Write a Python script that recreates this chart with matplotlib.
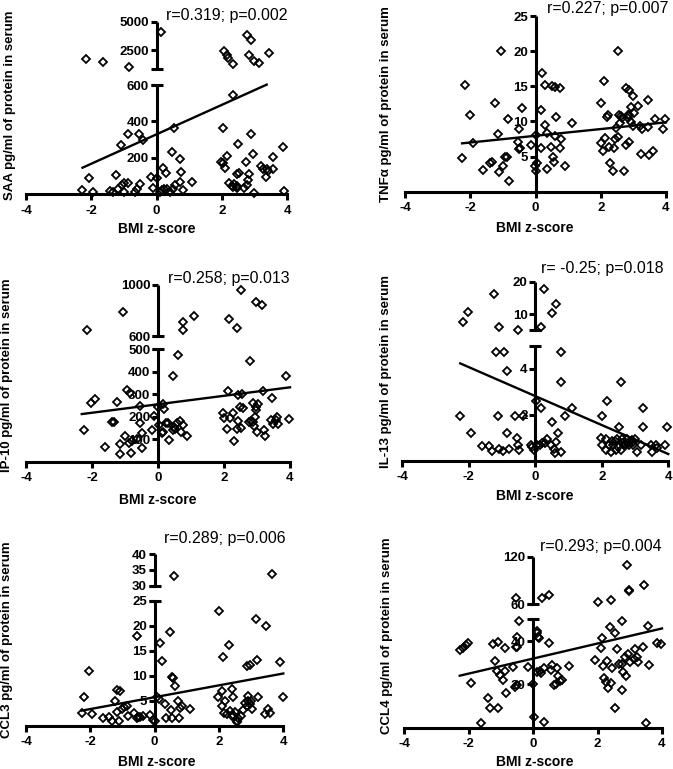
import numpy as np
import matplotlib
matplotlib.use("Agg")
import matplotlib.pyplot as plt

plt.rcParams['font.family'] = ['Liberation Sans', 'DejaVu Sans']
plt.rcParams['axes.unicode_minus'] = False

# ---------------- data ----------------
saa_x = [-2.16,-1.63,-0.86,0.13,2.07,2.14,2.17,2.35,2.76,2.88,2.84,2.99,3.13,3.45,
         2.35,-1.08,-0.89,-0.55,-0.43,0.53,-2.06,-1.24,-2.28,-1.94,-1.43,-1.33,-1.17,-1.07,-1.0,-0.87,
         -0.99,-0.66,-0.59,-0.51,-0.18,-0.12,0.0,0.20,0.28,0.10,0.15,0.22,0.31,0.46,0.71,0.74,0.71,
         0.56,0.51,0.41,0.82,1.07,2.02,1.96,2.09,2.14,2.04,2.5,2.52,2.47,2.88,2.96,2.73,2.84,2.81,
         2.76,2.68,2.99,2.22,2.30,2.37,2.45,2.47,2.35,3.21,3.27,3.37,3.35,3.42,3.57,3.55,3.86,3.90]
saa_y = [1677,1441,1030,4117,2441,2059,1765,1265,3823,3382,2059,1530,1324,2206,
         545,271,329,329,298,362,88,108,24,11,18,15,27,53,60,64,
         11,13,27,55,97,33,88,143,115,15,24,29,29,234,192,124,66,
         51,27,15,24,70,174,179,143,210,362,274,119,112,329,221,176,110,79,
         51,33,9,60,48,55,46,33,38,157,141,137,97,128,207,141,262,20]
saa_fit_x = [-2.27, 3.37]
saa_fit_y = [146, 605]

tnf_x = [-2.25,-2.16,-2.02,-1.92,-1.61,-1.39,-1.34,-1.24,-1.15,-1.13,-1.05,-1.0,-0.95,-0.88,-0.83,
         -0.82,-0.54,-0.52,-0.52,-0.47,-0.41,-0.13,-0.03,0.0,0.05,0.02,0.17,0.19,0.17,0.28,0.28,0.35,
         0.35,0.48,0.50,0.53,0.56,0.60,0.63,0.61,0.76,0.74,0.79,0.89,1.11,2.01,2.01,2.06,2.09,2.14,
         2.19,2.22,2.25,2.29,2.37,2.40,2.45,2.47,2.52,2.52,2.58,2.55,2.62,2.66,2.70,2.76,2.78,2.83,
         2.85,2.86,2.88,2.88,2.93,2.93,2.98,3.03,3.0,3.14,3.19,3.22,3.26,3.44,3.46,3.49,3.60,3.65,
         3.90,3.98]
tnf_y = [4.74,15.18,10.91,6.88,3.08,4.03,4.17,12.57,8.16,2.75,20.07,3.70,4.98,4.98,10.34,
         1.52,7.12,8.92,6.07,6.26,11.86,6.64,3.70,2.94,4.03,8.06,11.62,16.84,6.26,15.18,9.49,8.30,
         3.23,6.40,15.09,4.98,4.27,14.85,10.58,7.92,14.71,6.26,7.50,3.70,9.73,12.57,6.88,5.79,15.75,7.59,
         10.67,10.91,6.40,4.03,2.94,6.17,7.50,9.01,20.07,7.83,9.73,10.91,10.77,10.53,2.99,14.71,6.64,10.91,
         10.44,10.91,7.02,14.47,9.87,12.10,13.61,11.15,9.35,12.19,9.35,5.36,8.87,9.25,13.05,5.22,5.83,10.34,
         8.92,10.34]
tnf_fit_x = [-2.25, 4.0]
tnf_fit_y = [6.88, 9.87]

ip10_x = [-2.16,-1.05,0.75,0.77,1.10,2.16,2.38,2.51,2.97,3.16,
          0.60,0.46,2.79,3.88,-2.24,-2.03,-1.91,-1.61,-1.25,-1.38,-1.32,-1.15,-1.15,-1.0,-0.95,-0.85,
          -0.88,-0.82,-0.80,-0.65,-0.55,-0.55,-0.49,-0.49,-0.19,-0.11,-0.01,0.04,0.11,0.16,0.14,0.18,
          0.23,0.29,0.34,0.44,0.49,0.52,0.57,0.67,0.70,0.75,0.89,1.96,2.0,2.08,2.11,2.18,2.28,2.31,
          2.38,2.41,2.41,2.47,2.52,2.54,2.59,2.75,2.82,2.87,2.89,2.96,2.91,2.94,2.96,3.0,3.03,3.22,
          3.24,3.17,3.42,3.46,3.49,3.57,3.60,3.63,3.98]
ip10_y = [647,786,712,647,759,731,665,961,864,843,
          473,381,448,381,141,263,279,64,264,175,175,34,79,114,319,304,
          85,37,93,99,248,174,59,129,141,205,245,163,126,134,257,233,
          171,171,96,141,156,145,171,183,134,163,116,218,196,144,315,196,215,92,
          145,183,297,245,151,300,237,178,183,175,260,245,160,200,230,134,255,141,
          114,316,185,285,168,185,200,168,190]
ip10_fit_x = [-2.31, 4.0]
ip10_fit_y = [212, 331]

il13_x = [-2.16,-2.01,-1.23,-1.08,-0.53,0.19,0.27,0.50,0.64,
          -1.18,-0.93,-0.86,0.77,0.79,2.59,-2.25,-1.93,-1.61,-1.38,-1.31,-1.13,-1.08,-0.98,-0.85,-0.80,
          -0.61,-0.55,-0.51,-0.48,-0.36,-0.13,-0.08,-0.03,0.02,0.07,0.19,0.14,0.22,0.29,0.35,0.47,0.52,
          0.57,0.60,0.64,0.70,0.77,0.89,1.12,2.0,1.97,2.17,2.02,2.14,2.14,2.22,2.27,2.30,2.35,2.40,
          2.42,2.47,2.52,2.50,2.57,2.64,2.67,2.75,2.80,2.82,2.90,2.94,2.95,2.99,3.07,3.17,3.24,3.24,
          3.47,3.50,3.62,3.65,3.90,3.97,2.72,2.62]
il13_y = [7.76,10.8,16.2,6.2,5.2,6.2,17.7,10.3,13.1,
          4.71,4.71,3.91,4.71,3.41,3.41,1.96,1.19,0.65,0.65,0.42,1.96,0.51,0.42,1.19,0.51,
          1.96,0.97,0.68,0.46,1.96,0.68,0.61,0.46,2.61,0.68,2.28,0.68,0.78,0.75,0.94,0.68,1.67,
          0.51,0.32,0.80,1.19,0.39,1.96,2.28,1.96,0.97,2.61,0.68,0.94,0.46,0.68,0.36,0.87,0.68,0.87,
          0.46,0.94,1.45,0.61,0.46,0.78,0.68,0.94,0.78,0.68,0.90,0.83,0.68,0.94,0.39,0.68,2.28,1.45,
          0.68,0.39,0.68,0.54,0.68,1.45,0.68,0.94]
il13_fit_x = [-2.25, 4.0]
il13_fit_y = [4.23, 0.29]

ccl3_x = [0.61,3.64,
          -2.27,-2.19,-2.04,-1.94,-1.62,-1.41,-1.34,-1.23,-1.18,-1.16,-1.08,-1.10,-1.01,-0.95,-0.87,
          -0.82,-0.63,-0.56,-0.51,-0.54,-0.46,-0.37,-0.15,-0.04,0.01,0.06,0.15,0.17,0.24,0.32,0.34,
          0.48,0.51,0.53,0.58,0.63,0.55,0.74,0.79,0.76,0.84,1.10,1.96,2.0,2.08,2.08,2.14,2.19,2.16,
          2.24,2.31,2.34,2.39,2.42,2.45,2.45,2.50,2.55,2.60,2.57,2.67,2.76,2.81,2.86,2.89,2.91,2.98,
          2.98,3.01,3.04,3.17,3.15,3.22,3.43,3.45,3.51,3.59,3.90,3.98,2.86]
ccl3_y = [33.2,33.6,
          2.5,5.7,10.9,2.3,1.5,1.7,0.9,4.9,7.2,2.7,6.9,1.0,3.4,3.7,4.0,
          1.9,2.5,1.5,1.7,17.9,1.7,1.9,2.2,1.2,0.9,5.7,5.4,16.5,12.9,4.3,1.5,
          18.7,3.1,9.7,9.5,7.9,1.5,4.9,3.5,1.5,3.9,3.4,5.7,22.9,6.9,3.9,13.7,4.9,2.5,
          2.3,16.2,2.9,1.9,7.3,5.7,2.2,2.7,1.0,1.5,0.7,1.9,3.2,4.5,11.9,4.9,5.9,12.2,
          4.3,5.0,3.4,13.1,21.3,5.7,2.3,19.9,3.4,2.5,12.7,5.7,4.0]
ccl3_fit_x = [-2.27, 4.0]
ccl3_fit_y = [3.07, 10.5]

ccl4_x = [-0.54,0.26,0.50,2.0,2.41,2.91,2.98,2.98,3.45,
          -0.43,-0.49,-0.54,-0.51,-2.28,-2.19,-2.09,-2.01,-1.94,-1.62,-1.41,-1.35,-1.24,-1.18,-1.08,
          -1.08,-1.11,-1.02,-0.95,-0.88,-0.87,-0.83,-0.64,-0.57,-0.51,-0.16,0.0,0.03,0.11,0.13,0.16,
          0.19,0.13,0.21,0.24,0.34,0.34,0.50,0.55,0.60,0.65,0.70,0.73,0.78,0.83,0.91,1.12,1.93,2.10,
          2.15,2.18,2.19,2.26,2.30,2.33,2.41,2.38,2.46,2.55,2.54,2.60,2.67,2.75,2.77,2.75,2.80,2.88,
          2.86,2.93,3.01,3.12,3.17,3.22,3.24,3.40,3.50,3.58,3.60,3.86,3.96]
ccl4_y = [68,68,72,63,65,110,78,76,84,
          49.4,42,37.4,37.1,35.8,36.9,38.2,38.9,20.8,2.0,13.8,9.2,38.5,30.8,9.2,
          39.4,26.3,24.3,22.0,26.3,36.9,15.8,28.2,18.9,19.7,27.8,20.2,4.8,44.8,43.5,42,
          41.5,25.8,26.3,25.1,27.7,2.5,38.9,26.6,28.9,19.7,20.0,27.7,24.0,21.5,22.0,28.5,31.2,36.9,
          41.2,28.6,23.1,21.2,30.9,18.5,20.5,46.3,27.4,43.5,8.9,36.2,29.2,49.4,17.4,29.2,25.8,23.8,
          32.8,34.2,30.5,31.7,36.2,32.5,30.5,37.1,2.0,47.1,28.9,38.9,38.5]
ccl4_fit_x = [-2.28, 4.0]
ccl4_fit_y = [24.0, 45.8]

x_ticks = [-4, -2, 0, 2, 4]

W, H = 673, 769
fig = plt.figure(figsize=(W / 100, H / 100), dpi=100)


def make_scale(v, u):
    v = np.asarray(v, float)
    u = np.asarray(u, float)

    def interp(x, a, b):
        x = np.asarray(x, float)
        y = np.interp(x, a, b)
        y = np.where(x < a[0], b[0] + (x - a[0]) * (b[1] - b[0]) / (a[1] - a[0]), y)
        y = np.where(x > a[-1], b[-1] + (x - a[-1]) * (b[-1] - b[-2]) / (a[-1] - a[-2]), y)
        return y

    return (lambda x: interp(x, v, u)), (lambda x: interp(x, u, v))


panels = [
    dict(x=saa_x, y=saa_y, fx=saa_fit_x, fy=saa_fit_y,
         rect=(26, 287.3, 194.3, 21.7), brk=([0, 600, 800, 5000], [0, 328, 375, 518]),
         ticks=[200, 400, 600, 2500, 5000], labels=['200', '400', '600', '2500', '5000'],
         ylabel='SAA pg/ml of protein in serum', ylab=(10, 105), xlab=(157, 229),
         note='r=0.319; p=0.002', nxy=(287, 15.5)),
    dict(x=tnf_x, y=tnf_y, fx=tnf_fit_x, fy=tnf_fit_y,
         rect=(405, 666, 191.7, 16), brk=None, top=25,
         ticks=[5, 10, 15, 20, 25], labels=['5', '10', '15', '20', '25'],
         ylabel='TNFα pg/ml of protein in serum', ylab=(386, 104), xlab=(535, 228),
         note='r=0.227; p=0.007', nxy=(668, 8)),
    dict(x=ip10_x, y=ip10_y, fx=ip10_fit_x, fy=ip10_fit_y,
         rect=(26, 290, 461.7, 285), brk=([0, 500, 600, 1000], [0, 337, 377, 530]),
         ticks=[100, 200, 300, 400, 500, 600, 1000], labels=['100', '200', '300', '400', '500', '600', '1000'],
         ylabel='IP-10 pg/ml of protein in serum', ylab=(7, 375), xlab=(158, 500),
         note='r=0.258; p=0.013', nxy=(290, 278)),
    dict(x=il13_x, y=il13_y, fx=il13_fit_x, fy=il13_fit_y,
         rect=(402, 668.3, 460.7, 281.7), brk=([0, 5, 5.2, 20], [0, 345, 392, 537]),
         ticks=[2, 4, 10, 20], labels=['2', '4', '10', '20'],
         ylabel='IL-13 pg/ml of protein in serum', ylab=(386, 371), xlab=(535, 496),
         note='r= -0.25; p=0.018', nxy=(664, 269)),
    dict(x=ccl3_x, y=ccl3_y, fx=ccl3_fit_x, fy=ccl3_fit_y,
         rect=(26, 283.3, 726, 554.3), brk=([0, 25, 30, 40], [0, 375, 421, 515]),
         ticks=[5, 10, 15, 20, 25, 30, 35, 40], labels=['5', '10', '15', '20', '25', '30', '35', '40'],
         ylabel='CCL3 pg/ml of protein in serum', ylab=(7, 640), xlab=(157, 762),
         note='r=0.289; p=0.006', nxy=(286, 539)),
    dict(x=ccl4_x, y=ccl4_y, fx=ccl4_fit_x, fy=ccl4_fit_y,
         rect=(404.3, 662, 727.7, 556.7), brk=([0, 50, 60, 120], [0, 325, 371, 513]),
         ticks=[20, 40, 60, 120], labels=['20', '40', '60', '120'],
         ylabel='CCL4 pg/ml of protein in serum', ylab=(387, 636), xlab=(535, 762),
         note='r=0.293; p=0.004', nxy=(662, 546)),
]

LW_AX = 2.2
for p in panels:
    l, r, b, t = p['rect']
    ax = fig.add_axes([l / W, 1 - b / H, (r - l) / W, (b - t) / H])
    ax.patch.set_alpha(0)
    if p['brk'] is not None:
        fwd, inv = make_scale(*p['brk'])
        ax.set_yscale('function', functions=(fwd, inv))
        top = p['brk'][0][-1]
    else:
        top = p['top']
    ax.set_xlim(-4, 4)
    ax.set_ylim(0, top)

    ax.plot(p['x'], p['y'], ls='none', marker='D', ms=4.0, mfc='none', mec='black',
            mew=1.3, clip_on=False, zorder=3)
    ax.plot(p['fx'], p['fy'], color='black', lw=1.7, zorder=2, clip_on=False)

    for s in ['top', 'right']:
        ax.spines[s].set_visible(False)
    ax.spines['left'].set_position(('data', 0))
    ax.spines['left'].set_linewidth(LW_AX)
    ax.spines['bottom'].set_linewidth(LW_AX)
    if p['brk'] is not None:
        v = p['brk'][0]
        ax.spines['left'].set_bounds(0, v[1])
        ax.plot([0, 0], [v[2], v[3]], color='black', lw=LW_AX, solid_capstyle='butt',
                clip_on=False, zorder=2)
        # caps at the break ends of the axis segments
        ax.plot([0, 0], [v[1], v[2]], ls='none', marker='_', ms=8, mew=LW_AX,
                color='black', clip_on=False, zorder=2)
    ax.spines['left'].set_capstyle('butt')

    ax.set_yticks(p['ticks'])
    ax.set_yticklabels(p['labels'])
    ax.yaxis.set_minor_locator(matplotlib.ticker.NullLocator())
    ax.set_xticks(x_ticks)
    ax.set_xticklabels([str(v) for v in x_ticks])
    ax.tick_params(axis='y', direction='out', length=4.5, width=LW_AX, pad=1,
                   labelsize=9.5)
    ax.tick_params(axis='x', direction='out', length=4.5, width=LW_AX, pad=3,
                   labelsize=9.5)
    for lab in ax.get_xticklabels() + ax.get_yticklabels():
        lab.set_fontweight('bold')

    fig.text(p['ylab'][0] / W, 1 - p['ylab'][1] / H, p['ylabel'], rotation=90,
             ha='center', va='center', fontsize=9.5, fontweight='bold')
    fig.text(p['xlab'][0] / W, 1 - p['xlab'][1] / H, 'BMI z-score',
             ha='center', va='center', fontsize=10, fontweight='bold')
    fig.text(p['nxy'][0] / W, 1 - p['nxy'][1] / H, p['note'],
             ha='right', va='center', fontsize=11.5)

fig.savefig('out.png', dpi=100)
